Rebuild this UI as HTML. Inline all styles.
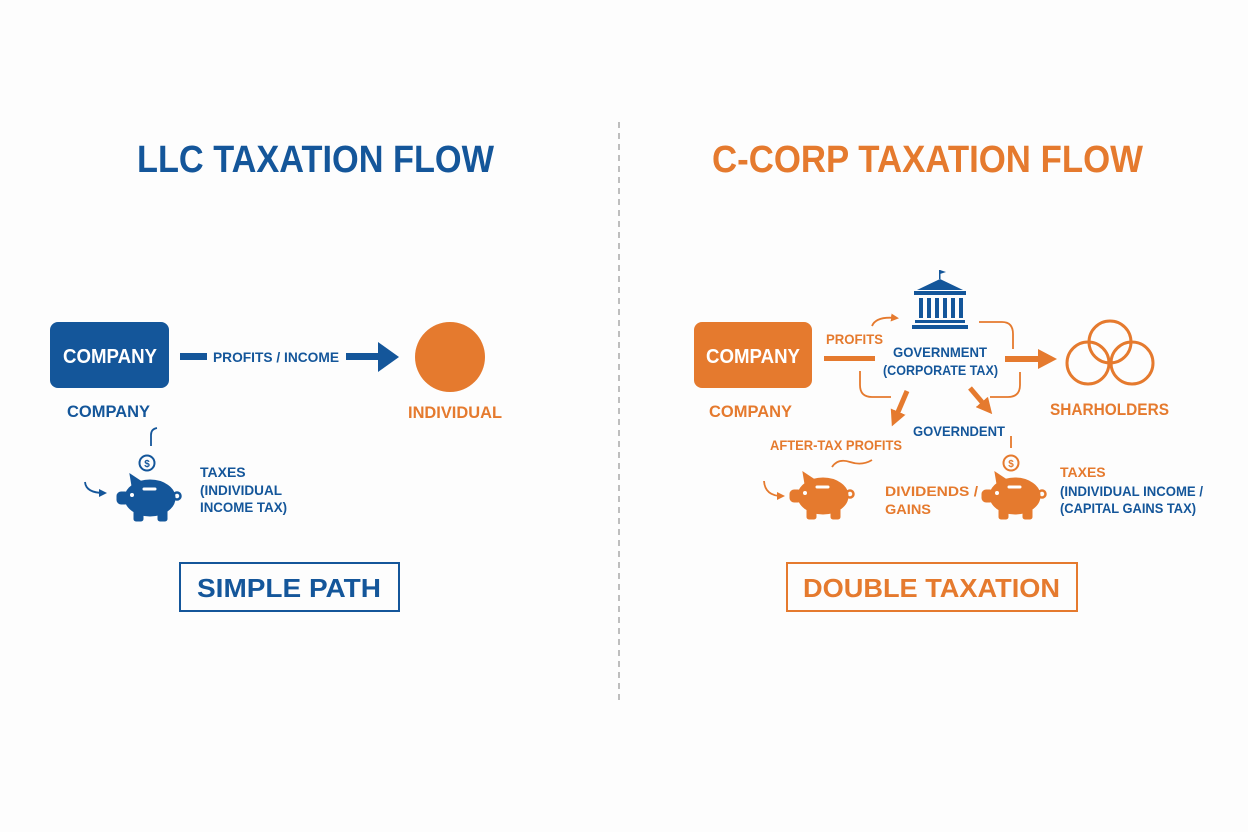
<!DOCTYPE html>
<html><head><meta charset="utf-8"><style>
html,body{margin:0;padding:0;background:#fdfdfd}
svg{display:block}
text{font-family:"Liberation Sans",sans-serif;font-weight:bold}
</style></head><body>
<svg width="1248" height="832" viewBox="0 0 1248 832" xmlns="http://www.w3.org/2000/svg">
<defs>
<symbol id="pig" viewBox="-34 -26 68 52" overflow="visible">
  <ellipse cx="2" cy="0" rx="25" ry="18"/>
  <path d="M-16 -12 L-18 -24 L-6 -16 Z"/>
  <rect x="-31" y="-6" width="12" height="12" rx="4"/>
  <rect x="-14" y="8" width="9" height="15" rx="2"/>
  <rect x="10" y="8" width="9" height="15" rx="2"/>
  <circle cx="29" cy="-2" r="3.5" fill="none" stroke-width="2.5" class="tl"/>
  <rect x="-6" y="-11" width="15" height="4" rx="2" fill="#fff"/>
  <circle cx="-16" cy="-3" r="2.5" fill="#fff"/>
</symbol>
<marker id="ao" markerWidth="8" markerHeight="8" refX="5" refY="4" orient="auto" markerUnits="userSpaceOnUse"><path d="M0 0 L8 4 L0 8 Z" fill="#e57a2e"/></marker>
<marker id="ab" markerWidth="8" markerHeight="8" refX="5" refY="4" orient="auto" markerUnits="userSpaceOnUse"><path d="M0 0 L8 4 L0 8 Z" fill="#14569a"/></marker>
<marker id="ao2" markerWidth="16" markerHeight="16" refX="8" refY="8" orient="auto" markerUnits="userSpaceOnUse"><path d="M0 0 L16 8 L0 16 Z" fill="#e57a2e"/></marker>
</defs>

<!-- titles -->
<text x="137" y="172" font-size="38" fill="#14569a" textLength="357" lengthAdjust="spacingAndGlyphs">LLC TAXATION FLOW</text>
<text x="712" y="172" font-size="38" fill="#e57a2e" textLength="431" lengthAdjust="spacingAndGlyphs">C-CORP TAXATION FLOW</text>
<line x1="619" y1="122" x2="619" y2="703" stroke="#aaa" stroke-width="1.5" stroke-dasharray="6,5"/>

<!-- LLC -->
<rect x="50" y="322" width="119" height="66" rx="8" fill="#14569a"/>
<text x="63" y="363" font-size="20" fill="#fff" textLength="94" lengthAdjust="spacingAndGlyphs">COMPANY</text>
<rect x="180" y="353" width="27" height="7" fill="#14569a"/>
<text x="213" y="362" font-size="14" fill="#14569a" textLength="126" lengthAdjust="spacingAndGlyphs">PROFITS / INCOME</text>
<rect x="346" y="353" width="34" height="7" fill="#14569a"/>
<path d="M378 342 L399 357 L378 372 Z" fill="#14569a"/>
<circle cx="450" cy="357" r="35" fill="#e57a2e"/>
<text x="67" y="417" font-size="17" fill="#14569a" textLength="83" lengthAdjust="spacingAndGlyphs">COMPANY</text>
<text x="408" y="418" font-size="17" fill="#e57a2e" textLength="94" lengthAdjust="spacingAndGlyphs">INDIVIDUAL</text>
<path d="M151 446 L151 435 Q151 429 157 428" fill="none" stroke="#14569a" stroke-width="1.8"/>
<circle cx="147" cy="463" r="7.5" fill="none" stroke="#14569a" stroke-width="2"/>
<text x="147" y="467" font-size="10" fill="#14569a" text-anchor="middle">$</text>
<use href="#pig" x="114" y="472" width="68" height="52" fill="#14569a" stroke="#14569a"/>
<path d="M85 482 Q86 493 104 493" fill="none" stroke="#14569a" stroke-width="1.8" marker-end="url(#ab)"/>
<text x="200" y="477" font-size="14" fill="#14569a">TAXES</text>
<text x="200" y="495" font-size="14" fill="#14569a" textLength="82" lengthAdjust="spacingAndGlyphs">(INDIVIDUAL</text>
<text x="200" y="512" font-size="14" fill="#14569a" textLength="87" lengthAdjust="spacingAndGlyphs">INCOME TAX)</text>
<rect x="180" y="563" width="219" height="48" fill="none" stroke="#14569a" stroke-width="2"/>
<text x="197" y="597" font-size="26" fill="#14569a" textLength="184" lengthAdjust="spacingAndGlyphs">SIMPLE PATH</text>

<!-- C-CORP -->
<rect x="694" y="322" width="118" height="66" rx="8" fill="#e57a2e"/>
<text x="706" y="363" font-size="20" fill="#fff" textLength="94" lengthAdjust="spacingAndGlyphs">COMPANY</text>
<text x="709" y="417" font-size="17" fill="#e57a2e" textLength="83" lengthAdjust="spacingAndGlyphs">COMPANY</text>
<text x="826" y="344" font-size="14" fill="#e57a2e" textLength="57" lengthAdjust="spacingAndGlyphs">PROFITS</text>
<rect x="824" y="356" width="51" height="5" fill="#e57a2e"/>
<path d="M872 326 Q876 316 896 318" fill="none" stroke="#e57a2e" stroke-width="1.8" marker-end="url(#ao)"/>
<!-- building -->
<g fill="#14569a">
<rect x="939" y="270" width="1.5" height="9"/>
<path d="M940 270 L946 272 L940 274 Z"/>
<path d="M917 290 L940 279 L963 290 Z"/>
<rect x="914" y="291" width="52" height="4"/>
<rect x="919" y="298" width="4" height="20"/><rect x="927" y="298" width="4" height="20"/><rect x="935" y="298" width="4" height="20"/><rect x="943" y="298" width="4" height="20"/><rect x="951" y="298" width="4" height="20"/><rect x="959" y="298" width="4" height="20"/>
<rect x="915" y="320" width="50" height="3"/>
<rect x="912" y="325" width="56" height="4"/>
</g>
<text x="893" y="357" font-size="14" fill="#14569a" textLength="94" lengthAdjust="spacingAndGlyphs">GOVERNMENT</text>
<text x="883" y="375" font-size="14" fill="#14569a" textLength="115" lengthAdjust="spacingAndGlyphs">(CORPORATE TAX)</text>
<g fill="none" stroke="#e57a2e" stroke-width="1.8">
<path d="M979 322 L1002 322 Q1013 322 1013 334 L1013 349"/>
<path d="M1020 372 L1020 385 Q1020 397 1008 397 L990 397"/>
<path d="M860 371 L860 385 Q860 397 872 397 L891 397"/>
<path d="M832 467 Q838 458 850 462 Q862 466 872 460"/>
<path d="M1011 436 L1011 448"/>
</g>
<rect x="1005" y="356" width="36" height="6" fill="#e57a2e"/>
<path d="M1038 349 L1057 359 L1038 369 Z" fill="#e57a2e"/>
<line x1="907" y1="391" x2="895" y2="419" stroke="#e57a2e" stroke-width="5" marker-end="url(#ao2)"/>
<line x1="970" y1="388" x2="987" y2="408" stroke="#e57a2e" stroke-width="5" marker-end="url(#ao2)"/>
<text x="913" y="436" font-size="14" fill="#14569a" textLength="92" lengthAdjust="spacingAndGlyphs">GOVERNDENT</text>
<text x="770" y="450" font-size="14" fill="#e57a2e" textLength="132" lengthAdjust="spacingAndGlyphs">AFTER-TAX PROFITS</text>
<g fill="none" stroke="#e57a2e" stroke-width="3">
<circle cx="1110" cy="342" r="21"/><circle cx="1088" cy="363" r="21"/><circle cx="1132" cy="363" r="21"/>
</g>
<text x="1050" y="415" font-size="17" fill="#e57a2e" textLength="119" lengthAdjust="spacingAndGlyphs">SHARHOLDERS</text>
<use href="#pig" x="787" y="470" width="68" height="52" fill="#e57a2e" stroke="#e57a2e"/>
<path d="M764 481 Q765 496 782 496" fill="none" stroke="#e57a2e" stroke-width="1.8" marker-end="url(#ao)"/>
<text x="885" y="496" font-size="14" fill="#e57a2e" textLength="93" lengthAdjust="spacingAndGlyphs">DIVIDENDS /</text>
<text x="885" y="514" font-size="14" fill="#e57a2e" textLength="46" lengthAdjust="spacingAndGlyphs">GAINS</text>
<circle cx="1011" cy="463" r="7.5" fill="none" stroke="#e57a2e" stroke-width="2"/>
<text x="1011" y="467" font-size="10" fill="#e57a2e" text-anchor="middle">$</text>
<use href="#pig" x="979" y="470" width="68" height="52" fill="#e57a2e" stroke="#e57a2e"/>
<text x="1060" y="477" font-size="14" fill="#e57a2e">TAXES</text>
<text x="1060" y="496" font-size="14" fill="#14569a" textLength="143" lengthAdjust="spacingAndGlyphs">(INDIVIDUAL INCOME /</text>
<text x="1060" y="513" font-size="14" fill="#14569a" textLength="136" lengthAdjust="spacingAndGlyphs">(CAPITAL GAINS TAX)</text>
<rect x="787" y="563" width="290" height="48" fill="none" stroke="#e57a2e" stroke-width="2"/>
<text x="803" y="597" font-size="26" fill="#e57a2e" textLength="257" lengthAdjust="spacingAndGlyphs">DOUBLE TAXATION</text>
</svg>
</body></html>
